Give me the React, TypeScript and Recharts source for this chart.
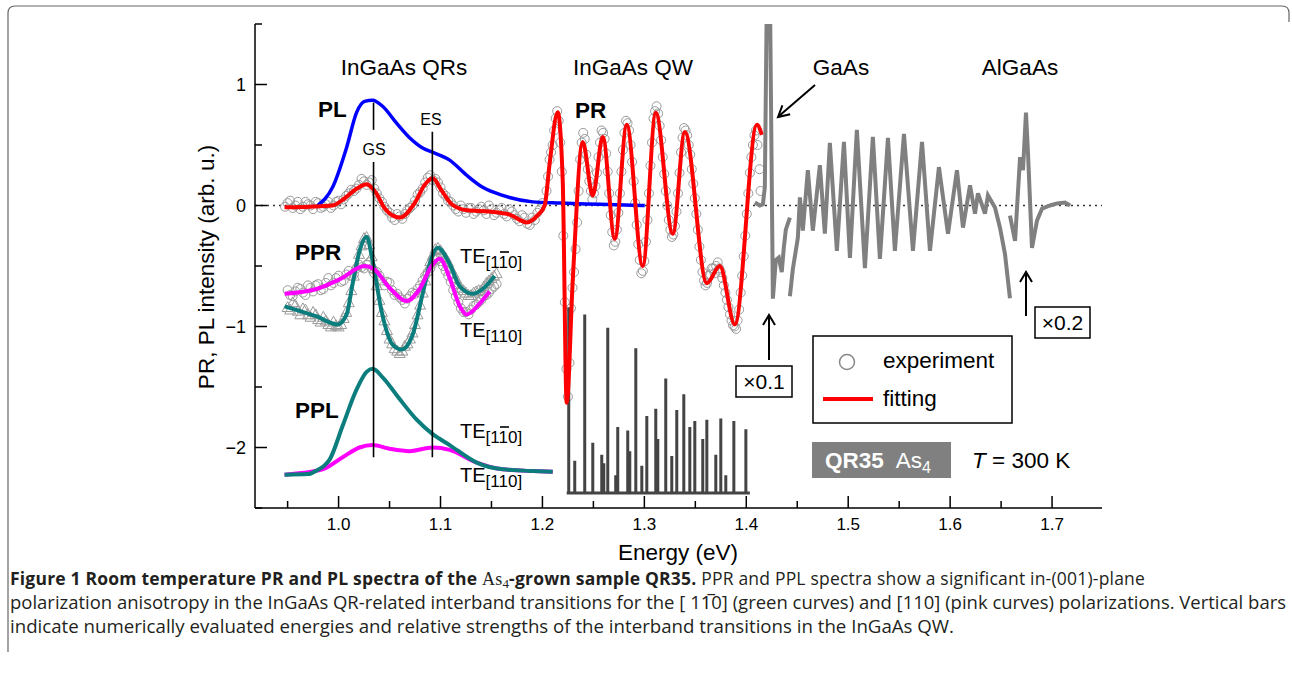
import React from 'react';
import { ComposedChart, Line, Scatter, XAxis, YAxis, ReferenceLine } from 'recharts';

const FONT = '"Liberation Sans", Arial, Helvetica, sans-serif';

// axis ticks: majors every 0.1 eV / 1 unit, minors in between
const xTicks = [0.95, 1.0, 1.05, 1.1, 1.15, 1.2, 1.25, 1.3, 1.35, 1.4, 1.45, 1.5, 1.55, 1.6, 1.65, 1.7];
const yTicks = [-2.5, -2, -1.5, -1, -0.5, 0, 0.5, 1, 1.5];

// PL spectrum (blue)
const plCurve = [
  [0.9794, 0.0], [0.9941, 0.15], [1.0079, 0.48], [1.0177, 0.77], [1.0255, 0.86], [1.0334, 0.87],
  [1.0432, 0.82], [1.0569, 0.68], [1.0697, 0.56], [1.0825, 0.475], [1.0923, 0.44], [1.109, 0.375],
  [1.1257, 0.25], [1.1414, 0.15], [1.161, 0.083], [1.1905, 0.03], [1.217, 0.02], [1.2562, 0.01], [1.3004, 0.0],
];

// PR fitting (red)
const prFit = [
  [0.947, -0.014], [0.972, -0.01], [0.994, 0.0], [1.006, 0.06], [1.018, 0.14], [1.0275, 0.175], [1.037, 0.1],
  [1.045, -0.02], [1.06, -0.1], [1.0746, 0.02], [1.0844, 0.17], [1.0923, 0.225], [1.101, 0.125], [1.111, 0.01],
  [1.126, -0.04], [1.148, -0.05], [1.168, -0.075], [1.1846, -0.14], [1.1954, -0.08],
  [1.2022, 0.0], [1.2071, 0.35], [1.215, 0.77], [1.2199, 0.21], [1.2238, -1.63], [1.2297, -0.625],
  [1.2395, 0.525], [1.2494, 0.083], [1.2592, 0.567], [1.271, -0.275], [1.2827, 0.667], [1.2984, -0.5],
  [1.3112, 0.767], [1.3279, -0.233], [1.3397, 0.608], [1.3613, -0.642], [1.374, -0.5], [1.3888, -0.983],
  [1.4104, 0.667], [1.4153, 0.583],
];

// PR experiment (open circles), two interleaved sweeps
const prExp = [
  [0.95, 0.02], [0.955, -0.02], [0.96, 0.03], [0.965, -0.01], [0.97, 0.01], [0.975, -0.03], [0.98, 0.02],
  [0.985, -0.01], [0.99, 0.03], [0.995, 0.0], [1.0, 0.04], [1.005, 0.05], [1.01, 0.1], [1.015, 0.12],
  [1.02, 0.17], [1.025, 0.2], [1.03, 0.19], [1.035, 0.14], [1.04, 0.06], [1.045, -0.01], [1.05, -0.06],
  [1.055, -0.12], [1.06, -0.09], [1.065, -0.07], [1.07, -0.02], [1.075, 0.04], [1.08, 0.11], [1.085, 0.19],
  [1.09, 0.25], [1.095, 0.22], [1.1, 0.15], [1.105, 0.08], [1.11, 0.03], [1.115, -0.03], [1.12, 0.0],
  [1.125, -0.06], [1.13, -0.02], [1.135, -0.05], [1.14, -0.01], [1.145, -0.07], [1.15, -0.03], [1.155, -0.06],
  [1.16, -0.02], [1.165, -0.09], [1.17, -0.05], [1.175, -0.11], [1.18, -0.08], [1.185, -0.15], [1.19, -0.1],
  [1.195, -0.06], [1.2, 0.02],
  [1.204, 0.12], [1.207, 0.38], [1.21, 0.5], [1.213, 0.72], [1.216, 0.7], [1.219, 0.28], [1.222, -0.8],
  [1.225, -1.58], [1.228, -0.85], [1.231, -0.55], [1.234, -0.14], [1.237, 0.38], [1.24, 0.6], [1.243, 0.42],
  [1.246, 0.2], [1.249, 0.05], [1.252, 0.16], [1.255, 0.4], [1.258, 0.62], [1.261, 0.55], [1.264, 0.28],
  [1.267, -0.08], [1.27, -0.33], [1.273, -0.2], [1.276, 0.1], [1.279, 0.46], [1.282, 0.7], [1.285, 0.62],
  [1.288, 0.36], [1.291, 0.02], [1.294, -0.32], [1.297, -0.56], [1.3, -0.46], [1.303, -0.12], [1.306, 0.33],
  [1.309, 0.72], [1.312, 0.82], [1.315, 0.66], [1.318, 0.4], [1.321, 0.12], [1.324, -0.12], [1.327, -0.26],
  [1.33, -0.17], [1.333, 0.1], [1.336, 0.44], [1.339, 0.64], [1.342, 0.58], [1.345, 0.42], [1.348, 0.18],
  [1.351, -0.07], [1.354, -0.34], [1.357, -0.55], [1.36, -0.66], [1.363, -0.58], [1.366, -0.52], [1.369, -0.56],
  [1.372, -0.47], [1.375, -0.55], [1.378, -0.66], [1.381, -0.78], [1.384, -0.9], [1.387, -0.99], [1.39, -1.02],
  [1.393, -0.86], [1.396, -0.58], [1.399, -0.25], [1.402, 0.1], [1.405, 0.4], [1.408, 0.58], [1.411, 0.5],
  [1.413, 0.3], [1.414, 0.12],
];
const prExp2 = [
  [0.9475, -0.01], [0.9525, 0.04], [0.9575, 0.0], [0.9625, -0.03], [0.9675, 0.03], [0.9725, 0.0], [0.9775, 0.03],
  [0.9825, -0.02], [0.9875, 0.01], [0.9925, -0.02], [0.9975, 0.03], [1.0025, 0.01], [1.0075, 0.08], [1.0125, 0.13],
  [1.0175, 0.14], [1.0225, 0.22], [1.0275, 0.17], [1.0325, 0.21], [1.0375, 0.1], [1.0425, 0.03], [1.0475, -0.04],
  [1.0525, -0.1], [1.0575, -0.07], [1.0625, -0.11], [1.0675, -0.04], [1.0725, 0.0], [1.0775, 0.09], [1.0825, 0.14],
  [1.0875, 0.23], [1.0925, 0.21], [1.0975, 0.19], [1.1025, 0.1], [1.1075, 0.04], [1.1125, 0.0], [1.1175, -0.05],
  [1.1225, -0.03], [1.1275, -0.02], [1.1325, -0.07], [1.1375, -0.03], [1.1425, -0.04], [1.1475, 0.0], [1.1525, -0.08],
  [1.1575, -0.04], [1.1625, -0.07], [1.1675, -0.03], [1.1725, -0.08], [1.1775, -0.13], [1.1825, -0.1], [1.1875, -0.16],
  [1.1925, -0.12], [1.1975, -0.03],
  [1.2055, 0.24], [1.2085, 0.44], [1.2115, 0.62], [1.2145, 0.78], [1.2175, 0.52], [1.2205, -0.25], [1.2235, -1.35],
  [1.2265, -1.3], [1.2295, -0.68], [1.2325, -0.36], [1.2355, 0.12], [1.2385, 0.52], [1.2415, 0.55], [1.2445, 0.3],
  [1.2475, 0.12], [1.2505, 0.1], [1.2535, 0.27], [1.2565, 0.52], [1.2595, 0.6], [1.2625, 0.43], [1.2655, 0.1],
  [1.2685, -0.22], [1.2715, -0.3], [1.2745, -0.06], [1.2775, 0.28], [1.2805, 0.6], [1.2835, 0.68], [1.2865, 0.5],
  [1.2895, 0.2], [1.2925, -0.16], [1.2955, -0.45], [1.2985, -0.54], [1.3015, -0.3], [1.3045, 0.1], [1.3075, 0.52],
  [1.3105, 0.78], [1.3135, 0.76], [1.3165, 0.54], [1.3195, 0.26], [1.3225, 0.0], [1.3255, -0.2], [1.3285, -0.24],
  [1.3315, -0.05], [1.3345, 0.27], [1.3375, 0.56], [1.3405, 0.62], [1.3435, 0.5], [1.3465, 0.3], [1.3495, 0.06],
  [1.3525, -0.2], [1.3555, -0.45], [1.3585, -0.62], [1.3615, -0.64], [1.3645, -0.57], [1.3675, -0.52], [1.3705, -0.5],
  [1.3735, -0.52], [1.3765, -0.6], [1.3795, -0.72], [1.3825, -0.84], [1.3855, -0.95], [1.3885, -1.0], [1.3915, -0.95],
  [1.3945, -0.72], [1.3975, -0.42], [1.4005, -0.07], [1.4035, 0.27], [1.4065, 0.5], [1.4095, 0.62],
];

// PPR fits: TE[1-10] (teal) and TE[110] (magenta)
const pprTeal = [
  [0.947, -0.833], [0.9784, -0.917], [0.999, -0.983], [1.0079, -0.9], [1.0137, -0.65], [1.0206, -0.375],
  [1.0275, -0.258], [1.0334, -0.458], [1.0422, -0.875], [1.053, -1.15], [1.0618, -1.19], [1.0726, -1.07],
  [1.0825, -0.73], [1.0913, -0.43], [1.0972, -0.35], [1.109, -0.483], [1.1188, -0.667], [1.1316, -0.73],
  [1.1414, -0.69], [1.1532, -0.583],
];
const pprPink = [
  [0.947, -0.73], [0.9784, -0.69], [1.001, -0.61], [1.0255, -0.5], [1.0353, -0.53], [1.05, -0.68],
  [1.0668, -0.79], [1.0795, -0.69], [1.0913, -0.5], [1.0992, -0.44], [1.109, -0.6], [1.1188, -0.83],
  [1.1257, -0.9], [1.1384, -0.81], [1.1482, -0.71],
];
// PPR experiment: triangles for TE[1-10], circles for TE[110]
const pprTealExp = [
  [0.95, -0.84], [0.955, -0.8], [0.96, -0.87], [0.965, -0.85], [0.97, -0.9], [0.975, -0.88], [0.98, -0.94],
  [0.985, -0.92], [0.99, -0.98], [0.995, -0.96], [1.0, -1.0], [1.005, -0.93], [1.01, -0.8], [1.015, -0.58],
  [1.02, -0.4], [1.025, -0.27], [1.03, -0.32], [1.035, -0.52], [1.04, -0.78], [1.045, -0.95], [1.05, -1.1],
  [1.055, -1.18], [1.06, -1.22], [1.065, -1.16], [1.07, -1.1], [1.075, -0.98], [1.08, -0.82], [1.085, -0.62],
  [1.09, -0.46], [1.095, -0.36], [1.1, -0.37], [1.105, -0.43], [1.11, -0.52], [1.115, -0.6], [1.12, -0.68],
  [1.125, -0.72], [1.13, -0.74], [1.135, -0.71], [1.14, -0.7], [1.145, -0.64], [1.15, -0.6], [1.155, -0.56],
  [0.9525, -0.86], [0.9575, -0.82], [0.9625, -0.9], [0.9675, -0.86], [0.9725, -0.92], [0.9775, -0.9],
  [0.9825, -0.96], [0.9875, -0.95], [0.9925, -1.0], [0.9975, -0.99], [1.0025, -0.98], [1.0075, -0.88],
  [1.0125, -0.7], [1.0175, -0.5], [1.0225, -0.33], [1.0275, -0.26], [1.0325, -0.42], [1.0375, -0.66],
  [1.0425, -0.88], [1.0475, -1.03], [1.0525, -1.14], [1.0575, -1.2], [1.0625, -1.2], [1.0675, -1.14],
  [1.0725, -1.05], [1.0775, -0.9], [1.0825, -0.72], [1.0875, -0.54], [1.0925, -0.41], [1.0975, -0.35],
  [1.1025, -0.4], [1.1075, -0.47], [1.1125, -0.56], [1.1175, -0.65], [1.1225, -0.7], [1.1275, -0.74],
  [1.1325, -0.72], [1.1375, -0.7], [1.1425, -0.67], [1.1475, -0.62], [1.1525, -0.58],
];
const pprPinkExp = [
  [0.95, -0.7], [0.955, -0.75], [0.96, -0.68], [0.965, -0.72], [0.97, -0.66], [0.975, -0.71], [0.98, -0.65],
  [0.985, -0.69], [0.99, -0.6], [0.995, -0.64], [1.0, -0.58], [1.005, -0.62], [1.01, -0.54], [1.015, -0.57],
  [1.02, -0.49], [1.025, -0.52], [1.03, -0.47], [1.035, -0.56], [1.04, -0.58], [1.045, -0.66], [1.05, -0.64],
  [1.055, -0.74], [1.06, -0.76], [1.065, -0.81], [1.07, -0.75], [1.075, -0.73], [1.08, -0.66], [1.085, -0.58],
  [1.09, -0.52], [1.095, -0.45], [1.1, -0.46], [1.105, -0.54], [1.11, -0.63], [1.115, -0.75], [1.12, -0.85],
  [1.125, -0.88], [1.13, -0.86], [1.135, -0.82], [1.14, -0.78], [1.145, -0.74], [1.15, -0.69], [1.155, -0.65],
  [0.9525, -0.74], [0.9575, -0.71], [0.9625, -0.69], [0.9675, -0.74], [0.9725, -0.68], [0.9775, -0.66],
  [0.9825, -0.7], [0.9875, -0.64], [0.9925, -0.66], [0.9975, -0.6], [1.0025, -0.63], [1.0075, -0.57],
  [1.0125, -0.58], [1.0175, -0.52], [1.0225, -0.51], [1.0275, -0.49], [1.0325, -0.52], [1.0375, -0.55],
  [1.0425, -0.62], [1.0475, -0.63], [1.0525, -0.7], [1.0575, -0.73], [1.0625, -0.78], [1.0675, -0.77],
  [1.0725, -0.72], [1.0775, -0.69], [1.0825, -0.62], [1.0875, -0.55], [1.0925, -0.48], [1.0975, -0.44],
  [1.1025, -0.5], [1.1075, -0.58], [1.1125, -0.7], [1.1175, -0.8], [1.1225, -0.88], [1.1275, -0.9],
  [1.1325, -0.83], [1.1375, -0.8], [1.1425, -0.75], [1.1475, -0.72], [1.1525, -0.67],
];

// PPL spectra
const pplTeal = [
  [0.947, -2.225], [0.97, -2.22], [0.9784, -2.19], [0.986, -2.15], [0.9912, -2.1], [1.004, -1.82],
  [1.0177, -1.52], [1.0275, -1.375], [1.0334, -1.35], [1.0432, -1.42], [1.0599, -1.6], [1.0766, -1.77],
  [1.0923, -1.89], [1.109, -1.98], [1.1355, -2.125], [1.161, -2.18], [1.2101, -2.2],
];
const pplPink = [
  [0.947, -2.225], [0.9843, -2.18], [1.004, -2.08], [1.0206, -2.0], [1.0334, -1.98], [1.05, -2.01],
  [1.0697, -2.03], [1.0923, -2.0], [1.109, -2.02], [1.1355, -2.125], [1.161, -2.18], [1.2101, -2.2],
];

// GaAs / AlGaAs PR (gray, x0.1 and x0.2)
const gaasSegA = [
  [1.4084, 0.025], [1.4133, 0.0], [1.4163, 0.01], [1.4182, 0.15], [1.421, 2.4], [1.4225, 2.4],
  [1.4261, -0.77], [1.429, -0.45], [1.4319, -0.43], [1.4348, -0.55], [1.4368, -0.35], [1.4388, -0.2], [1.4428, -0.1],
];
const gaasSegB = [
  [1.4428, -0.75], [1.4457, -0.525], [1.4506, -0.267], [1.4526, 0.067], [1.4555, -0.208], [1.4604, 0.292],
  [1.4653, -0.208], [1.4722, 0.333], [1.4771, -0.233], [1.482, 0.517], [1.4889, -0.375], [1.4958, 0.525],
  [1.5017, -0.433], [1.5085, 0.625], [1.5164, -0.517], [1.5242, 0.567], [1.5311, -0.442], [1.539, 0.558],
  [1.5458, -0.375], [1.5547, 0.592], [1.5635, -0.375], [1.5724, 0.525], [1.5802, -0.375], [1.589, 0.317],
  [1.5979, -0.233], [1.6067, 0.292], [1.6126, -0.183], [1.6195, 0.167], [1.6244, -0.067], [1.6273, 0.1],
  [1.6342, -0.067], [1.6371, 0.083], [1.644, -0.017], [1.6489, -0.183], [1.6538, -0.4], [1.6587, -0.767],
];
const algaasSeg = [
  [1.6587, -0.083], [1.6637, -0.292], [1.6686, 0.4], [1.6715, 0.292], [1.6744, 0.767], [1.6764, 0.433],
  [1.6803, -0.35], [1.6852, -0.125], [1.6902, -0.025], [1.698, 0.0], [1.7049, 0.017], [1.7127, 0.025], [1.7177, 0.0],
];

// calculated QW transitions (stick spectrum)
const stickEnergies = [
  1.2258, 1.2317, 1.2415, 1.2494, 1.2582, 1.2602, 1.2641, 1.2719, 1.2739, 1.2837, 1.2857, 1.2916, 1.2975,
  1.3024, 1.3112, 1.3132, 1.321, 1.3269, 1.3318, 1.3387, 1.3446, 1.3495, 1.3573, 1.3613, 1.3701, 1.375,
  1.3799, 1.3878, 1.3996,
];
const stickTops = [
  -0.84, -2.11, -0.9, -1.96, -2.06, -2.13, -1.01, -2.23, -1.83, -1.86, -2.03, -1.18, -2.15,
  -1.74, -1.68, -1.93, -1.43, -2.07, -1.69, -1.56, -1.83, -1.78, -1.93, -1.77, -2.06, -1.76,
  -2.23, -1.78, -1.85,
];
const stickBase = -2.375;

const pts = (rows: number[][]) => rows.map(([x, y]) => ({ x, y }));
const stickData = [
  { x: 1.2238, y: stickBase },
  ...stickEnergies.flatMap((e, i) => [
    { x: e, y: stickBase },
    { x: e, y: stickTops[i] },
    { x: e, y: stickBase },
  ]),
  { x: 1.4035, y: stickBase },
];

const isMajorX = (v: number) => Math.abs(v * 10 - Math.round(v * 10)) < 1e-6;
const fmtY = (v: number) => (v < 0 ? '\u2212' + Math.abs(v) : String(v));

const BottomTick = (p: any) => {
  const v = p.payload.value;
  const major = isMajorX(v);
  return (
    <g>
      <line x1={p.x} x2={p.x} y1={p.y} y2={p.y - (major ? 12 : 7)} stroke="#000" strokeWidth={1.5} />
      {major && (
        <text x={p.x} y={p.y + 22} textAnchor="middle" fontFamily={FONT} fontSize={17} fill="#000">
          {v.toFixed(1)}
        </text>
      )}
    </g>
  );
};
const TopTick = (p: any) => {
  const major = isMajorX(p.payload.value);
  return <line x1={p.x} x2={p.x} y1={p.y} y2={p.y + (major ? 12 : 7)} stroke="#000" strokeWidth={1.5} />;
};
const LeftTick = (p: any) => {
  const v = p.payload.value;
  const major = Number.isInteger(v);
  return (
    <g>
      <line x1={p.x} x2={p.x + (major ? 12 : 7)} y1={p.y} y2={p.y} stroke="#000" strokeWidth={1.5} />
      {major && (
        <text x={p.x - 9} y={p.y + 6.5} textAnchor="end" fontFamily={FONT} fontSize={18} fill="#000">
          {fmtY(v)}
        </text>
      )}
    </g>
  );
};
const RightTick = (p: any) => {
  const major = Number.isInteger(p.payload.value);
  return <line x1={p.x} x2={p.x - (major ? 12 : 7)} y1={p.y} y2={p.y} stroke="#000" strokeWidth={1.5} />;
};

const OpenCircle = (p: any) => (
  <circle cx={p.cx} cy={p.cy} r={4.5} fill="none" stroke="#9a9a9a" strokeWidth={1} />
);
const OpenTriangle = (p: any) => {
  const s = 5.5;
  return (
    <polygon
      points={`${p.cx},${p.cy - s} ${p.cx - s},${p.cy + s * 0.8} ${p.cx + s},${p.cy + s * 0.8}`}
      fill="none"
      stroke="#9a9a9a"
      strokeWidth={1}
    />
  );
};

const TEAL = '#0b7d7d';
const PINK = '#ff00ff';

// TE label with subscript [1 1̄ 0] or [110]
const TELabel = ({ x, y, bar }: { x: number; y: number; bar: boolean }) => (
  <g fontFamily={FONT} fill="#000">
    <text x={x} y={y} fontSize={20}>
      TE
      <tspan fontSize={17} dy={5}>[110]</tspan>
    </text>
    {bar && <line x1={x + 40} x2={x + 49} y1={y - 11} y2={y - 11} stroke="#000" strokeWidth={1.6} />}
  </g>
);

const UpArrow = ({ x, y1, y2 }: { x: number; y1: number; y2: number }) => (
  <g stroke="#000" strokeWidth={2} fill="none">
    <line x1={x} x2={x} y1={y1} y2={y2} />
    <polyline points={`${x - 6},${y2 + 10} ${x},${y2} ${x + 6},${y2 + 10}`} />
  </g>
);

export default function App() {
  return (
    <div style={{ position: 'absolute', left: 0, top: 0, width: 1292, height: 677, background: '#fff' }}>
      <ComposedChart width={1292} height={560} margin={{ top: 24, right: 190, bottom: 22, left: 195 }}>
        <XAxis
          dataKey="x"
          type="number"
          domain={[0.918, 1.749]}
          ticks={xTicks}
          allowDataOverflow
          interval={0}
          tickSize={0}
          tickMargin={0}
          tickLine={false}
          axisLine={{ stroke: '#000', strokeWidth: 1.5 }}
          tick={BottomTick}
          height={30}
        />
        <XAxis
          xAxisId="top"
          orientation="top"
          dataKey="x"
          type="number"
          domain={[0.918, 1.749]}
          ticks={xTicks}
          allowDataOverflow
          interval={0}
          tickSize={0}
          tickMargin={0}
          tickLine={false}
          axisLine={{ stroke: '#000', strokeWidth: 1.5 }}
          tick={TopTick}
          height={0}
        />
        <YAxis
          dataKey="y"
          type="number"
          domain={[-2.5, 1.5]}
          ticks={yTicks}
          allowDataOverflow
          interval={0}
          tickSize={0}
          tickMargin={0}
          tickLine={false}
          axisLine={{ stroke: '#000', strokeWidth: 1.5 }}
          tick={LeftTick}
          width={60}
        />
        <YAxis
          yAxisId="right"
          orientation="right"
          dataKey="y"
          type="number"
          domain={[-2.5, 1.5]}
          ticks={yTicks}
          allowDataOverflow
          interval={0}
          tickSize={0}
          tickMargin={0}
          tickLine={false}
          axisLine={{ stroke: '#000', strokeWidth: 1.5 }}
          tick={RightTick}
          width={0}
        />

        <ReferenceLine y={0} stroke="#333" strokeWidth={1.3} strokeDasharray="2 4" zIndex={50} />

        <Scatter data={pts(prExp)} dataKey="y" shape={OpenCircle} isAnimationActive={false} zIndex={350} />
        <Scatter data={pts(prExp2)} dataKey="y" shape={OpenCircle} isAnimationActive={false} zIndex={350} />
        <Scatter data={pts(pprTealExp)} dataKey="y" shape={OpenTriangle} isAnimationActive={false} zIndex={350} />
        <Scatter data={pts(pprPinkExp)} dataKey="y" shape={OpenCircle} isAnimationActive={false} zIndex={350} />

        <Line data={stickData} dataKey="y" type="linear" stroke="#444" strokeWidth={3} dot={false} isAnimationActive={false} zIndex={401} />
        <Line data={pts(plCurve)} dataKey="y" type="monotone" stroke="#0000ff" strokeWidth={3.5} dot={false} isAnimationActive={false} zIndex={402} />
        <Line data={pts(prFit)} dataKey="y" type="monotone" stroke="#ff0000" strokeWidth={4} dot={false} isAnimationActive={false} zIndex={403} />
        <Line data={pts(pprTeal)} dataKey="y" type="monotone" stroke={TEAL} strokeWidth={4} dot={false} isAnimationActive={false} zIndex={404} />
        <Line data={pts(pprPink)} dataKey="y" type="monotone" stroke={PINK} strokeWidth={4} dot={false} isAnimationActive={false} zIndex={405} />
        <Line data={pts(pplPink)} dataKey="y" type="monotone" stroke={PINK} strokeWidth={4} dot={false} isAnimationActive={false} zIndex={406} />
        <Line data={pts(pplTeal)} dataKey="y" type="monotone" stroke={TEAL} strokeWidth={4} dot={false} isAnimationActive={false} zIndex={407} />
        <Line data={pts(gaasSegA)} dataKey="y" type="linear" stroke="#808080" strokeWidth={4} dot={false} isAnimationActive={false} zIndex={408} />
        <Line data={pts(gaasSegB)} dataKey="y" type="linear" stroke="#808080" strokeWidth={4} dot={false} isAnimationActive={false} zIndex={408} />
        <Line data={pts(algaasSeg)} dataKey="y" type="linear" stroke="#808080" strokeWidth={4} dot={false} isAnimationActive={false} zIndex={408} />

        {/* GS and ES transition markers */}
        <ReferenceLine segment={[{ x: 1.0343, y: 0.85 }, { x: 1.0343, y: 0.625 }]} stroke="#000" strokeWidth={1.6} zIndex={450} />
        <ReferenceLine segment={[{ x: 1.0343, y: 0.36 }, { x: 1.0343, y: -2.08 }]} stroke="#000" strokeWidth={1.6} zIndex={450} />
        <ReferenceLine segment={[{ x: 1.092, y: 0.61 }, { x: 1.092, y: -2.08 }]} stroke="#000" strokeWidth={1.6} zIndex={450} />
      </ComposedChart>

      <svg width={1292} height={677} style={{ position: 'absolute', left: 0, top: 0, pointerEvents: 'none' }}>
        <path d="M8,652 V13 Q8,6 15,6 H1282 Q1289,6 1289,13 V22" fill="none" stroke="#666" strokeWidth={1.2} />

        <g fontFamily={FONT} fill="#000" fontSize={22.5}>
          <text x={404} y={75} textAnchor="middle">InGaAs QRs</text>
          <text x={633} y={75} textAnchor="middle">InGaAs QW</text>
          <text x={841} y={75} textAnchor="middle">GaAs</text>
          <text x={1020} y={75} textAnchor="middle">AlGaAs</text>
          <text x={318} y={117} fontWeight={700}>PL</text>
          <text x={575} y={118} fontWeight={700}>PR</text>
          <text x={295} y={260} fontWeight={700}>PPR</text>
          <text x={295} y={418} fontWeight={700}>PPL</text>
          <text x={431} y={125} textAnchor="middle" fontSize={16}>ES</text>
          <text x={374} y={155} textAnchor="middle" fontSize={16}>GS</text>
        </g>

        <TELabel x={460} y={263} bar />
        <TELabel x={460} y={337} bar={false} />
        <TELabel x={460} y={438} bar />
        <TELabel x={460} y={482} bar={false} />

        {/* GaAs arrow */}
        <g stroke="#000" strokeWidth={2} fill="none">
          <line x1={815} y1={85} x2={779} y2={116} />
          <polyline points="790.2,114.3 778,117 782.4,105.3" />
        </g>

        <UpArrow x={769} y1={360} y2={315} />
        <rect x={736} y={366} width={56} height={31} fill="#fff" stroke="#000" strokeWidth={1.5} />
        <text x={764} y={389} textAnchor="middle" fontFamily={FONT} fontSize={21}>×0.1</text>

        <UpArrow x={1026} y1={316} y2={272} />
        <rect x={1035} y={307} width={55} height={31} fill="#fff" stroke="#000" strokeWidth={1.5} />
        <text x={1062.5} y={330} textAnchor="middle" fontFamily={FONT} fontSize={21}>×0.2</text>

        {/* legend */}
        <rect x={813} y={336} width={199} height={87} fill="#fff" stroke="#000" strokeWidth={1.5} />
        <circle cx={847} cy={362} r={7.5} fill="none" stroke="#888" strokeWidth={1.5} />
        <line x1={823} x2={873} y1={399} y2={399} stroke="#ff0000" strokeWidth={4} />
        <g fontFamily={FONT} fontSize={22.5} fill="#000">
          <text x={883} y={368}>experiment</text>
          <text x={883} y={406}>fitting</text>
        </g>

        <rect x={812} y={442} width={139} height={36} fill="#808080" />
        <text x={825} y={468} fontFamily={FONT} fontSize={22.5} fill="#fff">
          <tspan fontWeight={700}>QR35</tspan>
          <tspan dx={12}>As</tspan>
          <tspan fontSize={16} dy={5}>4</tspan>
        </text>
        <text x={972} y={468} fontFamily={FONT} fontSize={22.5} fill="#000">
          <tspan fontStyle="italic">T</tspan>
          <tspan> = 300 K</tspan>
        </text>

        {/* axis titles */}
        <text x={678} y={560} textAnchor="middle" fontFamily={FONT} fontSize={22.5}>Energy (eV)</text>
        <text
          x={0}
          y={0}
          transform="translate(214,267) rotate(-90)"
          textAnchor="middle"
          fontFamily={FONT}
          fontSize={22.5}
        >
          PR, PL intensity (arb. u.)
        </text>

        {/* caption */}
        <g fontFamily='"Open Sans", "Noto Sans", sans-serif' fontSize={17.5} fill="#231f20">
          <text x={10} y={585} letterSpacing={0.2}>
            <tspan fontWeight={700}>Figure 1 Room temperature PR and PL spectra of the </tspan>
            <tspan fontFamily='"Liberation Serif", serif' fontSize={18}>As</tspan>
            <tspan fontFamily='"Liberation Serif", serif' fontSize={13} dy={3}>4</tspan>
            <tspan fontWeight={700} dy={-3}>-grown sample QR35.</tspan>
            <tspan> PPR and PPL spectra show a significant in-(001)-plane</tspan>
          </text>
          <text x={10} y={609} textLength={1276} lengthAdjust="spacingAndGlyphs">
            {'polarization anisotropy in the InGaAs QR-related interband transitions for the [ 11\u03050] (green curves) and [110] (pink curves) polarizations. Vertical bars'}
          </text>
          <text x={10} y={633} textLength={944} lengthAdjust="spacingAndGlyphs">
            indicate numerically evaluated energies and relative strengths of the interband transitions in the InGaAs QW.
          </text>
        </g>
      </svg>
    </div>
  );
}
